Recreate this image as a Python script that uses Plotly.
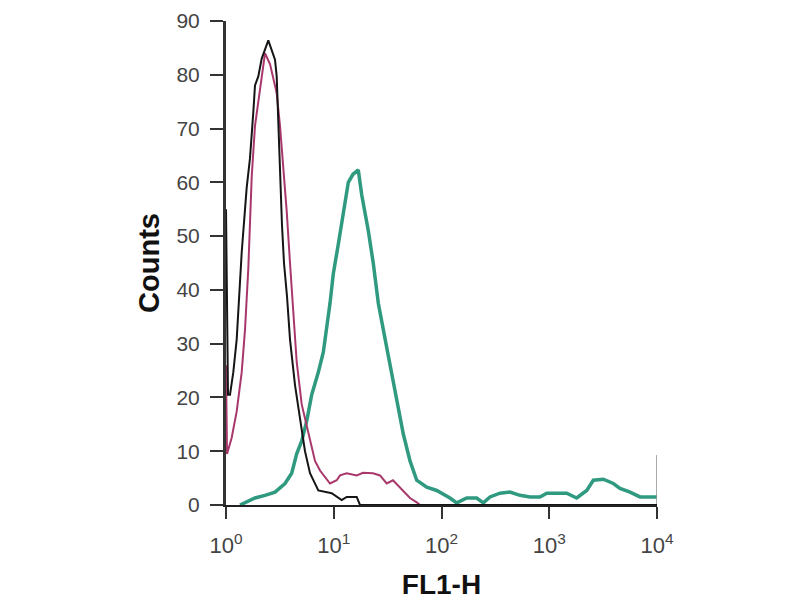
import plotly.graph_objs as go

### Histogram data (FL1-H, counts) ###
blackX  = [1.0, 1.044, 1.089, 1.169, 1.257, 1.320, 1.399, 1.556, 1.670, 1.792, 1.858, 1.994, 2.145,
           2.470, 2.850, 2.954, 3.058, 3.171, 3.309, 3.454, 3.683, 3.926, 4.369, 4.862, 5.410,
           6.020, 7.190, 9.572, 11.85, 13.19, 16.33, 17.52, 10000]
blackY  = [55, 20.5, 20.5, 24.7, 30.8, 38, 47, 59, 64.5, 73, 78, 79.7, 83,
           86.4, 82.8, 79.7, 71, 63.7, 52, 45, 38.8, 30.8, 22.3, 16.1, 10,
           5.9, 2.7, 2.2, 0.9, 1.5, 1.5, 0, 0]

pinkX   = [1.0, 1.022, 1.129, 1.257, 1.399, 1.501, 1.611, 1.732, 1.858, 2.068, 2.301, 2.561,
           2.954, 3.171, 3.403, 3.660, 3.926, 4.213, 4.531, 5.043, 5.805, 6.699, 7.455, 8.296,
           9.231, 10.65, 11.43, 13.19, 16.33, 18.68, 23.13, 26.87, 31.00, 35.47, 41.19, 45.84,
           51.02, 58.88, 63.17, 10000]
pinkY   = [26, 9.5, 12.5, 17.4, 24.7, 32.6, 44, 61, 70.5, 77, 84, 82,
           76.6, 70.5, 63, 54.6, 45, 35.7, 26.6, 18.7, 13.2, 8.2, 6.4, 5.1,
           4, 4.6, 5.5, 5.9, 5.5, 6, 5.9, 5.5, 4, 4.6, 3.3, 2.2,
           1.3, 0.5, 0, 0]

greenX  = [1.349, 1.858, 2.301, 2.850, 3.528, 4.071, 4.531, 5.043, 5.610, 6.245, 7.190, 8.000,
           9.231, 9.906, 11.02, 12.27, 13.65, 15.09, 16.90, 18.17, 20.93, 23.29, 25.92, 28.84,
           33.27, 38.40, 44.21, 51.02, 58.88, 72.92, 90.27, 119.9, 138.4, 171.4, 212.2, 244.3,
           281.9, 349.1, 432.3, 535.4, 662.9, 820.9, 947.1, 1173, 1452, 1798, 2227, 2565,
           3176, 3931, 4537, 5618, 6956, 8612, 10000]
greenY  = [0, 1.3, 1.8, 2.4, 4, 5.9, 9.5, 11.9, 15.6, 20.5, 24.7, 28.4,
           37.5, 43, 48.5, 54.6, 60, 61.5, 62.3, 57.7, 51, 44.9, 37.5, 32.6,
           26, 19.2, 13.2, 8.2, 4.6, 3.3, 2.7, 1.3, 0.4, 1.3, 1.3, 0.4,
           1.5, 2.2, 2.4, 1.8, 1.5, 1.5, 2.2, 2.2, 2.2, 1.3, 2.7, 4.6,
           4.8, 4, 3.1, 2.4, 1.5, 1.5, 1.5]

lastChanX = [10000, 10000]
lastChanY = [0, 9.3]

xTickVals = [1, 10, 100, 1000, 10000]
xTickText = ['10<sup>0</sup>', '10<sup>1</sup>', '10<sup>2</sup>', '10<sup>3</sup>', '10<sup>4</sup>']
yTickVals = [0, 10, 20, 30, 40, 50, 60, 70, 80, 90]

fig = go.Figure()

fig.add_trace(go.Scatter(x=greenX, y=greenY, mode='lines',
                         line=dict(color='#2f9a80', width=3.5)))
fig.add_trace(go.Scatter(x=lastChanX, y=lastChanY, mode='lines',
                         line=dict(color='#8a8f8e', width=1.5)))
fig.add_trace(go.Scatter(x=pinkX, y=pinkY, mode='lines',
                         line=dict(color='#a8386c', width=2)))
fig.add_trace(go.Scatter(x=blackX, y=blackY, mode='lines',
                         line=dict(color='#151515', width=2)))

# page body adds 8px, so the figure is 792x592 and margins are shifted by 8
fig.update_layout(width=792, height=592,
                  margin=dict(l=218, r=143, t=13, b=95),
                  showlegend=False,
                  paper_bgcolor='white', plot_bgcolor='white',
                  font=dict(family='Liberation Sans Narrow, Liberation Sans, Arial', size=16, color='#333333'))

fig.update_xaxes(type='log', range=[0, 4], tickvals=xTickVals, ticktext=xTickText,
                 automargin=False, ticklabeloverflow='allow', ticklabelstandoff=8,
                 showgrid=False, zeroline=False,
                 showline=True, linewidth=2, linecolor='#222222',
                 ticks='outside', ticklen=12, tickwidth=2, tickcolor='#333333',
                 tickfont=dict(size=22, color='#444444'),
                 title=dict(text='<b>FL1-H</b>', standoff=25,
                            font=dict(family='Liberation Sans, Arial', size=28, color='#111111')))
fig.update_yaxes(range=[0, 90], tickvals=yTickVals,
                 automargin=False, ticklabeloverflow='allow', ticklabelstandoff=6,
                 showgrid=False, zeroline=False,
                 showline=True, linewidth=3, linecolor='#333333',
                 ticks='outside', ticklen=13, tickwidth=2, tickcolor='#333333',
                 tickfont=dict(size=21, color='#444444'),
                 title=dict(text='<b>Counts</b>', standoff=9,
                            font=dict(family='Liberation Sans, Arial', size=29, color='#111111')))

fig.write_html("out.html")
